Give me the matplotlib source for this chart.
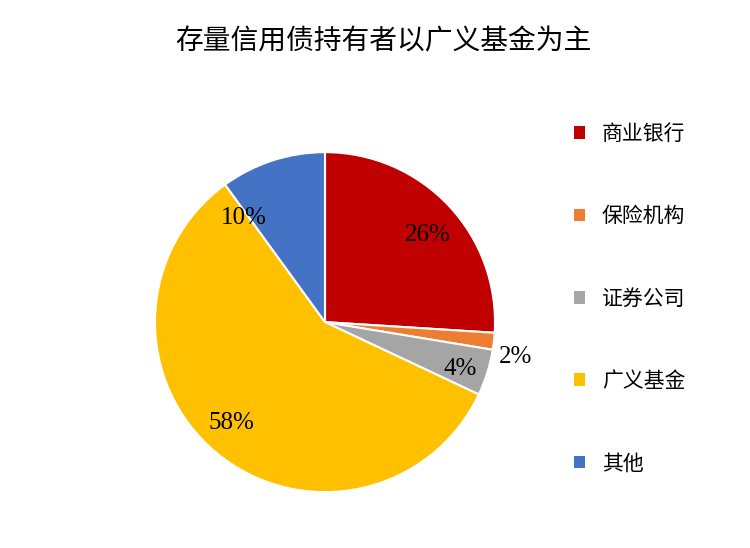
import matplotlib
matplotlib.use("Agg")
import numpy as np
import matplotlib.pyplot as plt
from matplotlib.patches import Patch

plt.rcParams['font.family'] = ['Noto Sans CJK SC', 'DejaVu Sans']

# data
categories = ['商业银行', '保险机构', '证券公司', '广义基金', '其他']
shares = [26.0, 1.6, 4.4, 58.0, 10.0]
colors = ['#C00000', '#ED7D31', '#A5A5A5', '#FFC000', '#4472C4']
title = '存量信用债持有者以广义基金为主'

# label placement (radius as fraction of pie radius, angle tweak in degrees)
label_r = [0.79, 1.14, 0.84, 0.81, 0.78]
label_dang = [-3, -4, -2, -3, 20]

fig = plt.figure(figsize=(7.5, 5.48), dpi=100)
ax = fig.add_axes([0.2067, 0.102, 0.4533, 0.6204])

wedges, _ = ax.pie(shares, colors=colors, startangle=90, counterclock=False,
                   radius=1.0, wedgeprops=dict(edgecolor='white', linewidth=1.5))
ax.set_xlim(-1, 1)
ax.set_ylim(-1, 1)
ax.set_aspect('equal')
ax.axis('off')

for w, val, r, da in zip(wedges, shares, label_r, label_dang):
    ang = np.deg2rad((w.theta1 + w.theta2) / 2 + da)
    ax.text(r * np.cos(ang), r * np.sin(ang), f'{val:.0f}%',
            ha='center', va='center', fontsize=18,
            family='Liberation Serif', color='black')

fig.text(0.511, 0.925, title, ha='center', va='center', fontsize=20)

handles = [Patch(facecolor=c, edgecolor='none') for c in colors]
fig.legend(handles, categories, loc='upper left', bbox_to_anchor=(0.74, 0.81),
           frameon=False, fontsize=15, handlelength=0.55, handleheight=0.55,
           handletextpad=0.8, labelspacing=2.9)

fig.savefig('out.png', dpi=100)
